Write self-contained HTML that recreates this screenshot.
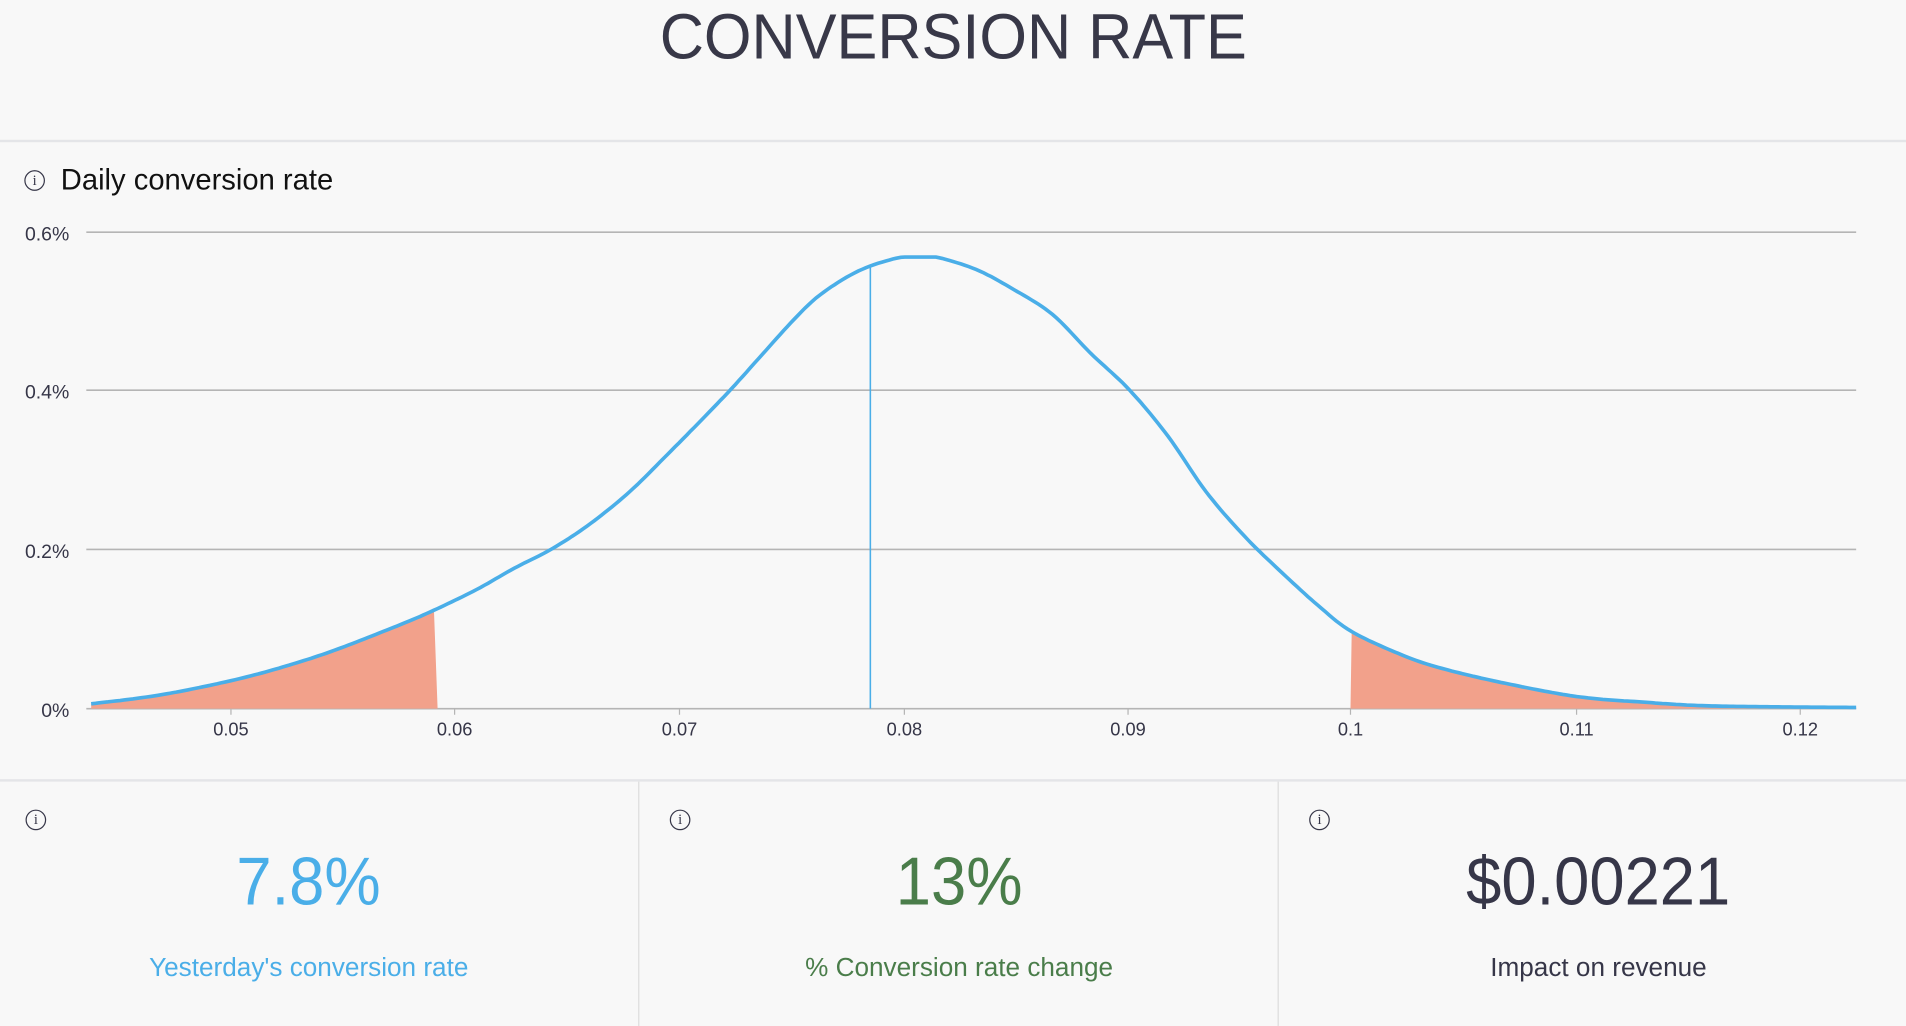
<!DOCTYPE html>
<html><head><meta charset="utf-8"><style>
html,body{margin:0;padding:0;background:#f8f8f8;overflow:hidden}
body{width:1906px;height:1026px}
#w{position:absolute;left:0;top:0;width:1568px;height:844px;transform:scale(1.21556);transform-origin:0 0;font-family:"Liberation Sans","DejaVu Sans",sans-serif;color:#363648}
.t{position:absolute;white-space:nowrap}
.s{display:inline-block;transform:scaleX(0.93)}
.ic{position:absolute;width:15px;height:15px;border:1.5px solid #363648;border-radius:50%;font-size:12px;line-height:15px;text-align:center;font-family:"Liberation Serif",serif;color:#363648}
</style></head><body><div id="w">
<div class="t" style="left:0;width:1568px;text-align:center;top:0px;font-size:53px;color:#383848"><span style="display:inline-block;transform:scaleX(0.95)">CONVERSION RATE</span></div>
<div style="position:absolute;left:0;top:115px;width:1568px;height:2px;background:#e4e5e8"></div>
<div class="ic" style="left:20px;top:140px">i</div>
<div class="t" style="left:50px;top:135px;font-size:24px;color:#111">Daily conversion rate</div>
<svg style="position:absolute;left:0;top:0" width="1568" height="640" id="ch">
<g stroke="#b5b5b5" stroke-width="1.3">
<line x1="71" x2="1527" y1="191" y2="191"/><line x1="71" x2="1527" y1="321" y2="321"/><line x1="71" x2="1527" y1="452" y2="452"/><line x1="71" x2="1527" y1="583" y2="583"/>
</g>
<g font-size="16" fill="#363648" text-anchor="end" font-family="Liberation Sans, sans-serif">
<text x="57" y="198">0.6%</text><text x="57" y="328">0.4%</text><text x="57" y="459">0.2%</text><text x="57" y="590">0%</text>
</g>
<g font-size="15" fill="#363648" text-anchor="middle" font-family="Liberation Sans, sans-serif">
<text x="190" y="605">0.05</text><text x="374" y="605">0.06</text><text x="559" y="605">0.07</text><text x="744" y="605">0.08</text><text x="928" y="605">0.09</text><text x="1111" y="605">0.1</text><text x="1297" y="605">0.11</text><text x="1481" y="605">0.12</text>
</g>
<g stroke="#b5b5b5"><line x1="190" x2="190" y1="583" y2="588"/><line x1="374" x2="374" y1="583" y2="588"/><line x1="559" x2="559" y1="583" y2="588"/><line x1="744" x2="744" y1="583" y2="588"/><line x1="928" x2="928" y1="583" y2="588"/><line x1="1111" x2="1111" y1="583" y2="588"/><line x1="1297" x2="1297" y1="583" y2="588"/><line x1="1481" x2="1481" y1="583" y2="588"/></g>
<path id="f1" fill="#f2a18b"/><path id="f2" fill="#f2a18b"/>
<line x1="716" x2="716" y1="218" y2="583" stroke="#4aaee8" stroke-width="1.3"/>
<path id="ln" fill="none" stroke="#4aaee8" stroke-width="3"/>
</svg>
<div style="position:absolute;left:0;top:641px;width:1568px;height:2px;background:#e4e5e8"></div>
<div style="position:absolute;left:525px;top:643px;width:1px;height:201px;background:#dcdcdc"></div>
<div style="position:absolute;left:1051px;top:643px;width:1px;height:201px;background:#dcdcdc"></div>
<div class="ic" style="left:21px;top:666px">i</div>
<div class="ic" style="left:551px;top:666px">i</div>
<div class="ic" style="left:1077px;top:666px">i</div>
<div class="t" style="left:0;width:508px;text-align:center;top:692px;font-size:56px;color:#4aaee8"><span class="s">7.8%</span></div>
<div class="t" style="left:526px;width:526px;text-align:center;top:692px;font-size:56px;color:#4a7d4a"><span class="s">13%</span></div>
<div class="t" style="left:1052px;width:526px;text-align:center;top:692px;font-size:56px;color:#363648"><span class="s">$0.00221</span></div>
<div class="t" style="left:0;width:508px;text-align:center;top:784px;font-size:21.5px;color:#4aaee8">Yesterday's conversion rate</div>
<div class="t" style="left:526px;width:526px;text-align:center;top:784px;font-size:21.5px;color:#4a7d4a">% Conversion rate change</div>
<div class="t" style="left:1052px;width:526px;text-align:center;top:784px;font-size:21.5px;color:#363648">Impact on revenue</div>
</div>
<script>
var K=[[75,579],[130,572],[190,560],[235,548],[275,535],[329,514],[357,502],[392,485],[423,467.5],[455,451],[486,430.5],[518,404.5],[549,374],[580,342.5],[602,319.5],[627,291.7],[653,263],[675,242.3],[706,223],[737,212.5],[753,211.5],[770,211.5],[803,221.7],[834,238.2],[866,258.8],[897,290.4],[929,320.6],[961,359],[992,404.3],[1024,441.3],[1055,471.5],[1087,500.4],[1112,519.6],[1150,537.4],[1181,548.4],[1232,560.8],[1297,573],[1350,577.5],[1400,580.5],[1460,581.5],[1527,582]];
function cr(p0,p1,p2,p3,t){var t2=t*t,t3=t2*t;return 0.5*((2*p1)+(-p0+p2)*t+(2*p0-5*p1+4*p2-p3)*t2+(-p0+3*p1-3*p2+p3)*t3);}
var pts=[];
for(var i=0;i<K.length-1;i++){var a=K[Math.max(0,i-1)],b=K[i],c=K[i+1],d=K[Math.min(K.length-1,i+2)];
 var n=Math.max(2,Math.round((c[0]-b[0])/3));
 for(var j=0;j<n;j++){var t=j/n;var x=cr(a[0],b[0],c[0],d[0],t),y=cr(a[1],b[1],c[1],d[1],t);pts.push([x,Math.max(211.5,Math.min(583,y))]);}}
pts.push(K[K.length-1]);
function s(p){return p.map(function(q){return q[0].toFixed(1)+","+q[1].toFixed(1)}).join("L");}
document.getElementById("ln").setAttribute("d","M"+s(pts));
var a1=pts.filter(function(p){return p[0]<=357});
document.getElementById("f1").setAttribute("d","M75,583L"+s(a1)+"L360,583Z");
var b1=pts.filter(function(p){return p[0]>=1111});
document.getElementById("f2").setAttribute("d","M1111,583L"+s(b1)+"L1527,583Z");
</script>
</body></html>
